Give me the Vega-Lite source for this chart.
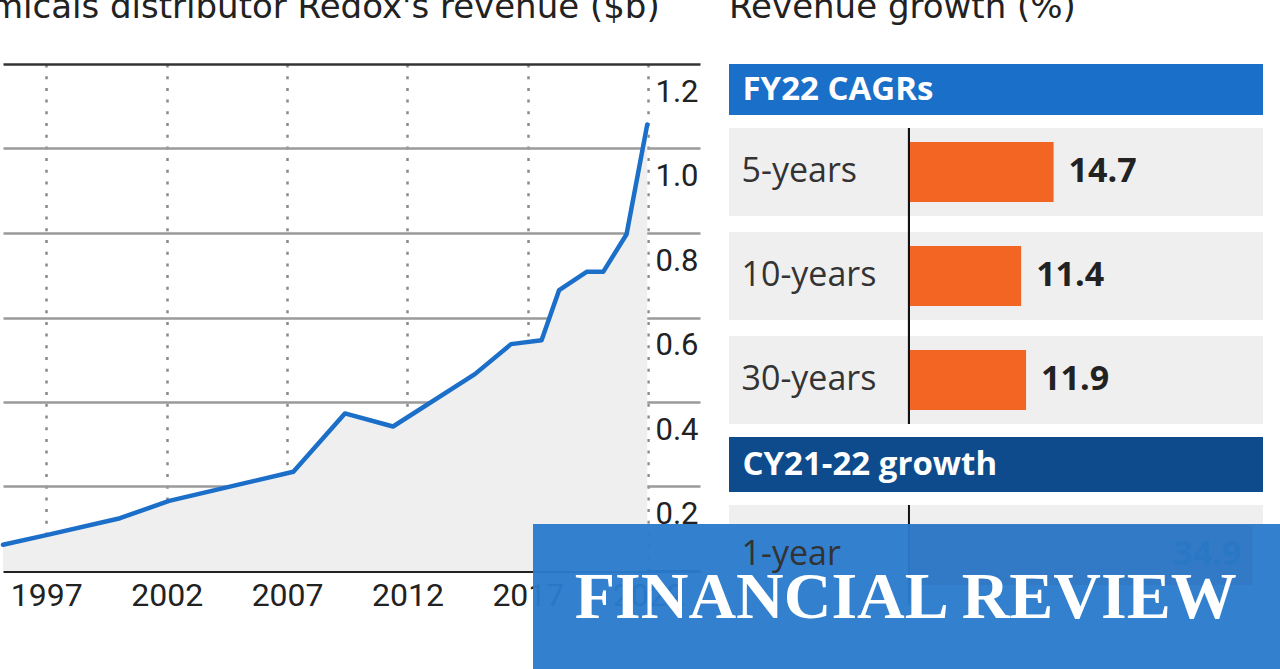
{
  "$schema": "https://vega.github.io/schema/vega-lite/v6.json",
  "background": "white",
  "padding": {"left": -77, "top": -9, "right": 0, "bottom": 0},
  "spacing": -167,
  "config": {"view": {"stroke": null}, "font": "Roboto"},
  "hconcat": [
    {
      "width": 697,
      "height": 507,
      "title": {"text": "Chemicals distributor Redox's revenue ($b)", "anchor": "start", "dx": -77, "fontSize": 34, "fontWeight": "normal", "color": "#222", "offset": 39, "font": "DejaVu Sans"},
      "data": {"values": [
        {"year": 1995.2, "revenue": 0.062},
        {"year": 1997.0, "revenue": 0.085},
        {"year": 2000.06, "revenue": 0.125},
        {"year": 2002.1, "revenue": 0.166},
        {"year": 2007.26, "revenue": 0.235},
        {"year": 2009.4, "revenue": 0.373},
        {"year": 2011.4, "revenue": 0.342},
        {"year": 2014.8, "revenue": 0.466},
        {"year": 2016.3, "revenue": 0.537},
        {"year": 2017.57, "revenue": 0.546},
        {"year": 2018.3, "revenue": 0.665},
        {"year": 2019.44, "revenue": 0.708},
        {"year": 2020.13, "revenue": 0.708},
        {"year": 2021.1, "revenue": 0.797},
        {"year": 2021.96, "revenue": 1.057}
      ]},
      "encoding": {
        "x": {"field": "year", "type": "quantitative", "scale": {"domain": [1995.2, 2024.15], "nice": false, "zero": false},
          "axis": {"title": null, "values": [1997, 2002, 2007, 2012, 2017, 2022], "format": "d", "grid": true, "gridDash": [3, 8.7], "gridColor": "#8a8a8a", "gridWidth": 2.5, "ticks": false, "domain": true, "domainColor": "#222", "domainWidth": 3, "labelFontSize": 32, "labelColor": "#222", "labelPadding": 9, "labelFlush": false, "labelFont": "Roboto"}},
        "y": {"field": "revenue", "type": "quantitative", "scale": {"domain": [0, 1.2], "nice": false},
          "axis": {"orient": "right", "title": null, "values": [0.2, 0.4, 0.6, 0.8, 1.0, 1.2], "format": ".1f", "grid": true, "gridColor": {"condition": {"test": "datum.value >= 1.19", "value": "#333"}, "value": "#9a9a9a"}, "gridWidth": 2.5, "ticks": false, "domain": false, "labelAlign": "left", "labelBaseline": "top", "labelPadding": -45, "labelOffset": 13, "labelFontSize": 31, "labelColor": "#222", "labelFlush": false, "labelFont": "Roboto"}}
      },
      "layer": [
        {"mark": {"type": "area", "color": "#efefef"}},
        {"mark": {"type": "line", "color": "#1b6fc8", "strokeWidth": 4.5, "strokeJoin": "round", "strokeCap": "round"}}
      ]
    },
    {
      "title": {"text": "Revenue growth (%)", "anchor": "start", "dx": 196, "fontSize": 34, "fontWeight": "normal", "color": "#222", "offset": 39, "font": "DejaVu Sans"},
      "spacing": 12,
      "vconcat": [
        {
          "width": 534,
          "height": 51,
          "data": {"values": [{"section": "FY22 CAGRs"}]},
          "mark": {"type": "bar", "color": "#1a6fc9"},
          "encoding": {"y": {"field": "section", "type": "nominal", "scale": {"paddingInner": 0, "paddingOuter": 0},
            "axis": {"title": null, "domain": false, "ticks": false, "labelAlign": "left", "labelPadding": -13, "labelFontSize": 33, "labelFontWeight": "bold", "labelColor": "white", "labelFont": "Open Sans", "labelLimit": 500, "zindex": 1}}}
        },
        {
          "width": 534,
          "height": 296,
          "data": {"values": [
            {"label": "5-years", "value": 14.7},
            {"label": "10-years", "value": 11.4},
            {"label": "30-years", "value": 11.9}
          ]},
          "layer": [
            {"mark": {"type": "bar", "color": "#efefef"},
             "encoding": {"y": {"field": "label", "type": "nominal", "sort": null, "scale": {"paddingInner": 0.154, "paddingOuter": 0},
               "axis": {"title": null, "domain": false, "ticks": false, "labelAlign": "left", "labelPadding": -12, "labelFontSize": 34, "labelColor": "#333", "labelFont": "Open Sans", "labelLimit": 500, "zindex": 1}}}},
            {"mark": {"type": "bar", "color": "#f26522", "height": {"band": 0.68}},
             "encoding": {"y": {"field": "label", "type": "nominal", "sort": null},
               "x": {"field": "value", "type": "quantitative", "scale": {"domain": [-18.29, 35.98], "nice": false, "zero": false}, "axis": null}}},
            {"mark": {"type": "rule", "color": "#111", "strokeWidth": 2},
             "encoding": {"x": {"datum": 0, "scale": {"domain": [-18.29, 35.98], "nice": false, "zero": false}, "axis": null}}},
            {"mark": {"type": "text", "align": "left", "dx": 15, "fontSize": 34, "fontWeight": "bold", "font": "Open Sans", "color": "#222"},
             "encoding": {"y": {"field": "label", "type": "nominal", "sort": null},
               "x": {"field": "value", "type": "quantitative", "scale": {"domain": [-18.29, 35.98], "nice": false, "zero": false}, "axis": null},
               "text": {"field": "value", "type": "quantitative", "format": ".1f"}}}
          ]
        },
        {
          "width": 534,
          "height": 55,
          "data": {"values": [{"section": "CY21-22 growth"}]},
          "mark": {"type": "bar", "color": "#0d4b8c"},
          "encoding": {"y": {"field": "section", "type": "nominal", "scale": {"paddingInner": 0, "paddingOuter": 0},
            "axis": {"title": null, "domain": false, "ticks": false, "labelAlign": "left", "labelPadding": -13, "labelFontSize": 33, "labelFontWeight": "bold", "labelColor": "white", "labelFont": "Open Sans", "labelLimit": 500, "zindex": 1}}}
        },
        {
          "width": 534,
          "height": 100,
          "title": {"text": "SOURCE: COMPANY DATA", "orient": "bottom", "anchor": "end", "fontSize": 22, "color": "#777", "fontWeight": "normal", "offset": 28, "font": "Roboto"},
          "layer": [
            {
              "data": {"values": [{"label": "1-year", "value": 34.9}]},
              "encoding": {"y": {"field": "label", "type": "nominal", "scale": {"paddingInner": 0, "paddingOuter": 0},
                "axis": {"title": null, "domain": false, "ticks": false, "labelAlign": "left", "labelPadding": -12, "labelFontSize": 34, "labelColor": "#333", "labelFont": "Open Sans", "labelLimit": 500, "zindex": 1}}},
              "layer": [
                {"mark": {"type": "bar", "color": "#efefef"}},
                {"mark": {"type": "bar", "color": "#f26522", "height": {"band": 0.6}},
                 "encoding": {"x": {"field": "value", "type": "quantitative", "scale": {"domain": [-18.29, 35.98], "nice": false, "zero": false}, "axis": null}}},
                {"mark": {"type": "text", "align": "right", "dx": -11, "fontSize": 34, "fontWeight": "bold", "font": "Open Sans", "color": "#222"},
                 "encoding": {"x": {"field": "value", "type": "quantitative", "scale": {"domain": [-18.29, 35.98], "nice": false, "zero": false}, "axis": null},
                   "text": {"field": "value", "type": "quantitative", "format": ".1f"}}}
              ]
            },
            {
              "data": {"values": [{"label": "1-year", "value": 34.9}]},
              "mark": {"type": "rule", "color": "#111", "strokeWidth": 2},
              "encoding": {"x": {"datum": 0, "scale": {"domain": [-18.29, 35.98], "nice": false, "zero": false}, "axis": null}}
            },
            {
              "data": {"values": [{"brand": "FINANCIAL REVIEW"}]},
              "layer": [
                {"mark": {"type": "rect", "color": "#2a7bcc", "opacity": 0.96},
                 "encoding": {
                   "x": {"datum": -0.367, "type": "quantitative", "scale": {"domain": [0, 1], "nice": false, "zero": false}, "axis": null},
                   "x2": {"datum": 1.034},
                   "y": {"datum": 81, "type": "quantitative", "scale": {"domain": [0, 100], "nice": false, "zero": false}, "axis": null},
                   "y2": {"datum": -68}}},
                {"mark": {"type": "text", "font": "Liberation Serif", "fontSize": 66, "fontWeight": "bold", "color": "white", "align": "center", "baseline": "middle"},
                 "encoding": {
                   "x": {"datum": 0.331, "type": "quantitative", "scale": {"domain": [0, 1], "nice": false, "zero": false}, "axis": null},
                   "y": {"datum": 7, "type": "quantitative", "scale": {"domain": [0, 100], "nice": false, "zero": false}, "axis": null},
                   "text": {"field": "brand", "type": "nominal"}}}
              ]
            }
          ],
          "resolve": {"scale": {"x": "independent", "y": "independent"}}
        }
      ]
    }
  ]
}
